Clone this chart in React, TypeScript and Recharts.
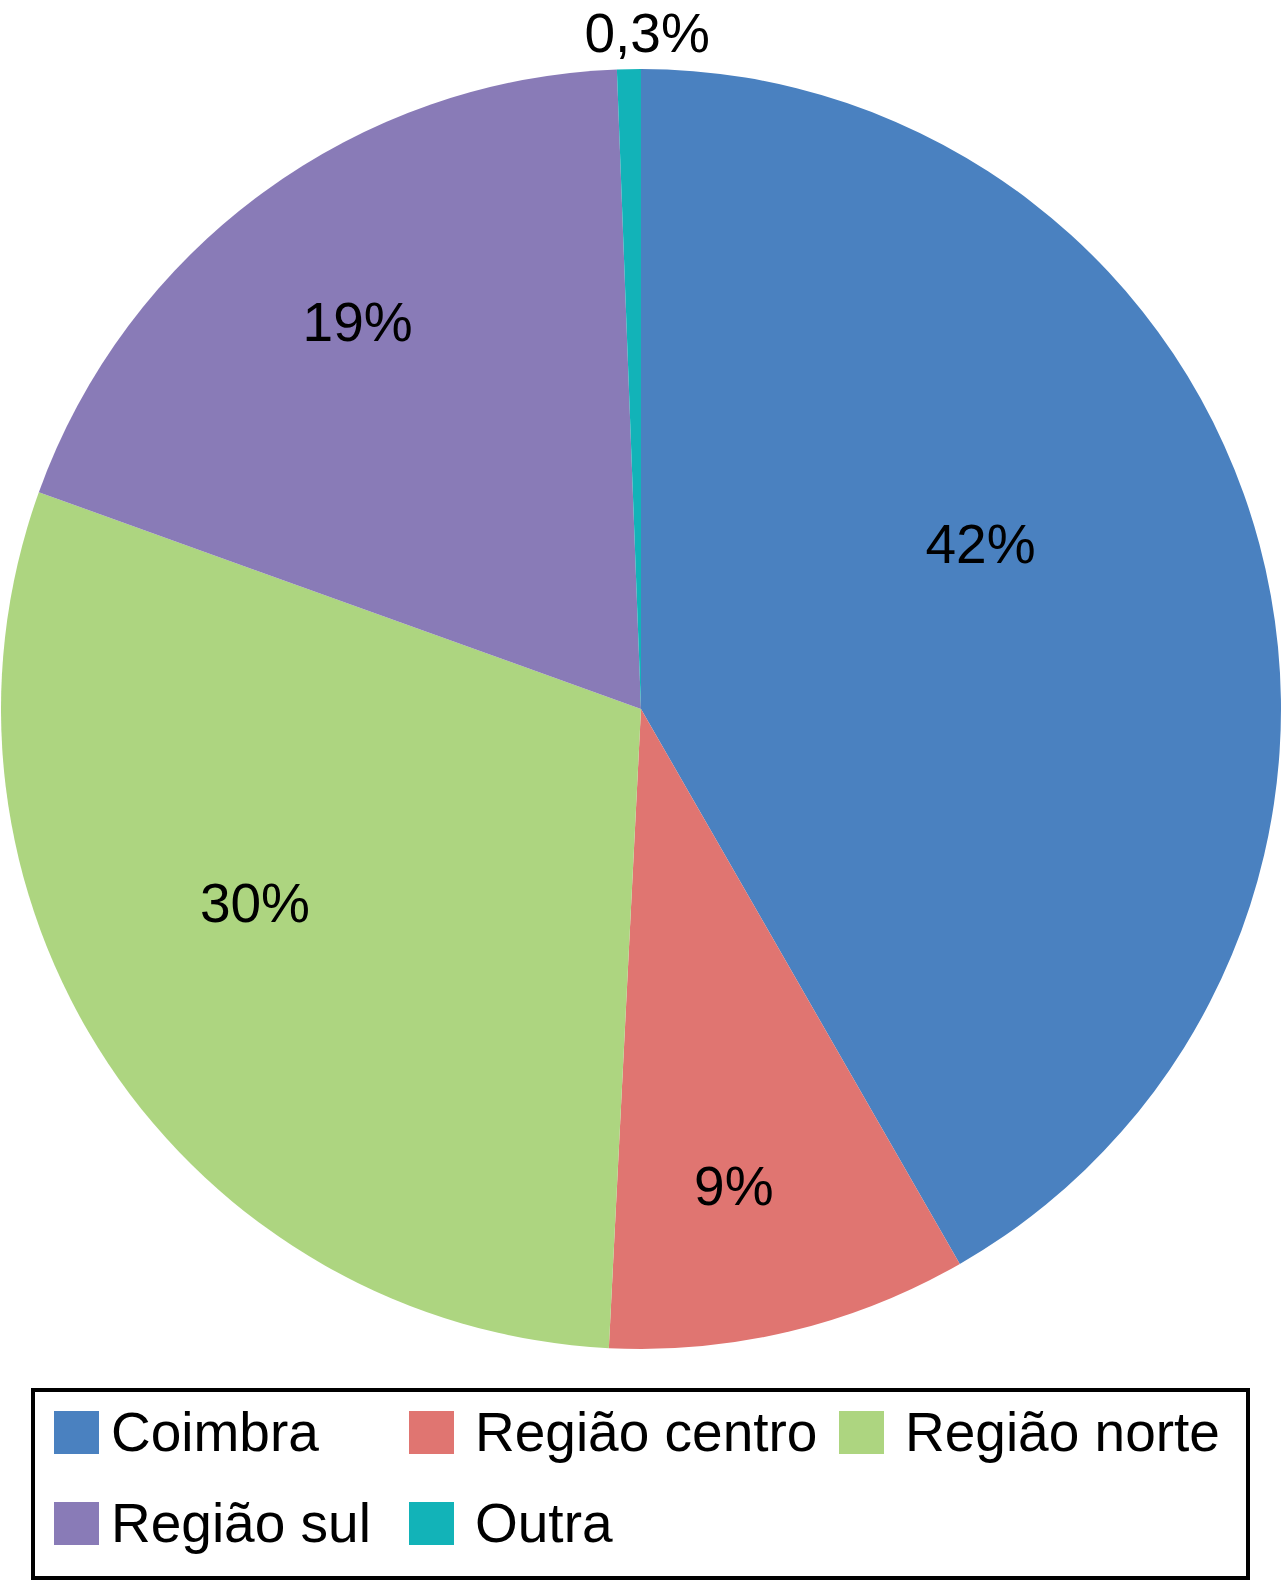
import React from "react";
import { PieChart, Pie, Cell, Legend } from "recharts";

const regions = ["Coimbra", "Região centro", "Região norte", "Região sul", "Outra"];
const shares = [41.7, 9.1, 29.7, 18.9, 0.6];
const labels = ["42%", "9%", "30%", "19%", "0,3%"];
const colors = ["#4A81C0", "#E07571", "#ADD580", "#897BB7", "#12B3B8"];

// label placement, tuned by eye (fraction of radius, angle nudge in degrees)
const labelRadius = [0.59, 0.76, 0.675, 0.75, 1.056];
const labelShift = [11, -2.5, -7, 0, -1.6];

const data = regions.map((name, i) => ({ name, value: shares[i], label: labels[i] }));

const FONT = '"Liberation Sans", Arial, Helvetica, sans-serif';
const RAD = Math.PI / 180;

const renderLabel = (props: any) => {
    const { cx, cy, midAngle, outerRadius, index } = props;
    const r = outerRadius * labelRadius[index];
    const a = (midAngle + labelShift[index]) * RAD;
    const x = cx + r * Math.cos(-a);
    const y = cy + r * Math.sin(-a);
    return (
        <text
            x={x}
            y={y}
            fill="#000"
            fontSize={55}
            fontFamily={FONT}
            textAnchor="middle"
            dominantBaseline="central"
        >
            {labels[index]}
        </text>
    );
};

const columns = [0, 355, 785];

const renderLegend = () => (
    <div
        style={{
            position: "relative",
            width: "100%",
            height: "100%",
            boxSizing: "border-box",
            border: "4px solid #000",
            background: "#fff",
            fontFamily: FONT,
        }}
    >
        {regions.map((name, i) => (
            <div
                key={name}
                style={{
                    position: "absolute",
                    left: 19 + columns[i % 3],
                    top: 19 + Math.floor(i / 3) * 91,
                    display: "flex",
                    alignItems: "center",
                    height: 43,
                }}
            >
                <span style={{ width: 45, height: 43, background: colors[i], display: "inline-block" }} />
                <span
                    style={{
                        marginLeft: i % 3 === 0 ? 12 : 21,
                        fontSize: 55,
                        lineHeight: "43px",
                        color: "#000",
                        whiteSpace: "nowrap",
                    }}
                >
                    {name}
                </span>
            </div>
        ))}
    </div>
);

export default function App() {
    return (
        <div style={{ position: "absolute", left: 0, top: 0, width: 1282, height: 1584, background: "#fff" }}>
            <PieChart width={1282} height={1584} margin={{ top: 0, right: 0, bottom: 0, left: 0 }}>
                <Pie
                    data={data}
                    dataKey="value"
                    nameKey="name"
                    cx={641}
                    cy={709}
                    outerRadius={640}
                    startAngle={90}
                    endAngle={-270}
                    stroke="none"
                    label={renderLabel}
                    labelLine={false}
                    isAnimationActive={false}
                >
                    {data.map((d, i) => (
                        <Cell key={d.name} fill={colors[i]} />
                    ))}
                </Pie>
                <Legend
                    content={renderLegend}
                    wrapperStyle={{ position: "absolute", left: 31, top: 1388, width: 1219, height: 192, bottom: "auto" }}
                />
            </PieChart>
        </div>
    );
}
